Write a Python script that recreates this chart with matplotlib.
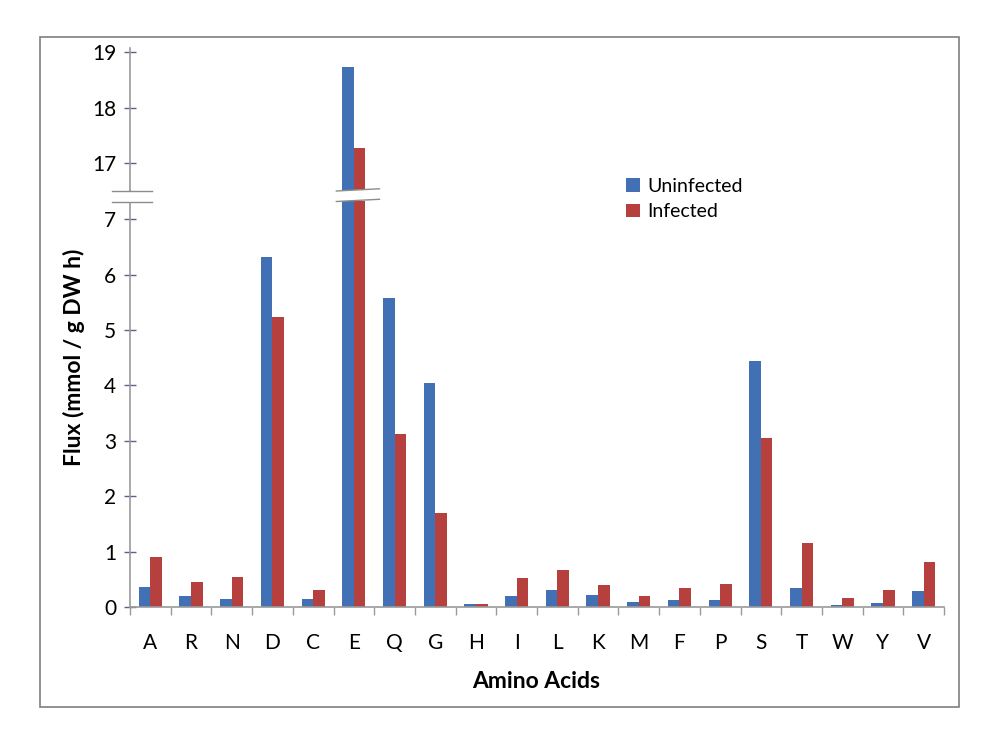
import matplotlib
matplotlib.use("Agg")
import matplotlib.pyplot as plt
import matplotlib.transforms as mtransforms
from matplotlib.patches import Polygon, Rectangle
from matplotlib.lines import Line2D
import numpy as np

plt.rcParams['font.family'] = ['Lato', 'DejaVu Sans']

# data
amino = ['A', 'R', 'N', 'D', 'C', 'E', 'Q', 'G', 'H', 'I',
         'L', 'K', 'M', 'F', 'P', 'S', 'T', 'W', 'Y', 'V']
uninfected = [0.37, 0.19, 0.15, 6.31, 0.15, 18.74, 5.57, 4.04, 0.06, 0.19,
              0.30, 0.22, 0.09, 0.12, 0.13, 4.45, 0.35, 0.04, 0.07, 0.28]
infected = [0.90, 0.46, 0.55, 5.23, 0.31, 17.26, 3.12, 1.69, 0.06, 0.53,
            0.66, 0.40, 0.19, 0.35, 0.42, 3.05, 1.15, 0.17, 0.31, 0.82]
low_ticks = [0, 1, 2, 3, 4, 5, 6, 7]
high_ticks = [17, 18, 19]

blue = '#4170B4'
red = '#B5403E'
spine_col = '#9A9A9A'
tick_col = '#6A5A8E'

W, H = 994, 742
fig = plt.figure(figsize=(W / 100, H / 100), dpi=100)


def fx(px):
    return px / W


def fy(py):
    return 1 - py / H


# outer frame
fig.patches.append(Rectangle((fx(40), fy(707)), fx(959 - 40), (707 - 37) / H,
                             transform=fig.transFigure, fill=False,
                             edgecolor='#7F7F7F', linewidth=1.2))

left, right = 130, 944
ax_lo = fig.add_axes([fx(left), fy(607), fx(right - left), (607 - 201) / H])
ax_hi = fig.add_axes([fx(left), fy(191), fx(right - left), (191 - 48) / H])

x = np.arange(len(amino))
bw = 0.285
for ax in (ax_lo, ax_hi):
    ax.bar(x - bw / 2, uninfected, bw, color=blue, label='Uninfected')
    ax.bar(x + bw / 2, infected, bw, color=red, label='Infected')
    ax.set_xlim(-0.5, len(amino) - 0.5)
    for s in ('top', 'right'):
        ax.spines[s].set_visible(False)
    ax.spines['left'].set_color(spine_col)
    ax.spines['left'].set_linewidth(1.2)
    ax.tick_params(axis='y', direction='inout', length=8, width=1,
                   color=tick_col, labelsize=15, pad=6)

ax_lo.set_ylim(0, 7.33)
ax_hi.set_ylim(16.49, 19.08)
ax_lo.set_yticks(low_ticks)
ax_hi.set_yticks(high_ticks)

ax_hi.spines['bottom'].set_visible(False)
ax_hi.set_xticks([])

ax_lo.spines['bottom'].set_color(spine_col)
ax_lo.spines['bottom'].set_linewidth(1.2)
ax_lo.set_xticks(x)
ax_lo.set_xticklabels(amino)
ax_lo.tick_params(axis='x', which='major', length=0, labelsize=15, pad=19)
ax_lo.set_xticks(np.arange(len(amino) + 1) - 0.5, minor=True)
ax_lo.tick_params(axis='x', which='minor', length=6, width=1, color=spine_col)

# y axis line continues through the gap
fig.lines.append(Line2D([fx(left), fx(left)], [fy(201), fy(191)],
                        transform=fig.transFigure, color=spine_col, lw=1.2))


def break_mark(x0, x1, trans, slant):
    y_top, y_bot = fy(191), fy(201.5)
    poly = Polygon([(x0, y_bot), (x1, y_bot + slant), (x1, y_top + slant), (x0, y_top)],
                   closed=True, transform=trans, facecolor='white', edgecolor='none',
                   zorder=5)
    fig.patches.append(poly)
    for yy in (y_top, y_bot):
        fig.lines.append(Line2D([x0, x1], [yy, yy + slant], transform=trans,
                                color='#8C8C8C', lw=1, zorder=6))


# break on axis and on the tall E bars
break_mark(fx(112), fx(152), fig.transFigure, 0.0)
blend = mtransforms.blended_transform_factory(ax_lo.transData, fig.transFigure)
e = amino.index('E')
break_mark(e - 0.43, e + 0.63, blend, 0.003)

fig.text(fx(74), fy(357), 'Flux (mmol / g DW h)', rotation=90, ha='center',
         va='center', fontsize=16.5, fontweight='bold')
fig.text(fx(536), fy(681), 'Amino Acids', ha='center', va='center',
         fontsize=16.5, fontweight='bold')

h, l = ax_lo.get_legend_handles_labels()
fig.legend(h, l, loc='upper left', bbox_to_anchor=(fx(626), fy(178)),
           frameon=False, fontsize=14, handlelength=0.7, handleheight=0.7,
           handletextpad=0.4, labelspacing=0.42, borderpad=0, borderaxespad=0)

fig.savefig('out.png', dpi=100)
